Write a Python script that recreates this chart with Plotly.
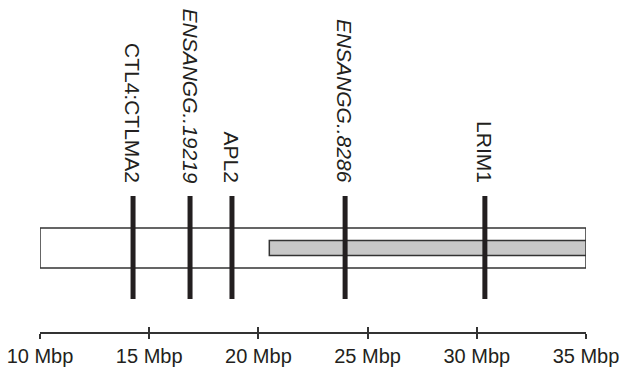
import plotly.graph_objects as go

# Data
region_start = 10.0
region_end = 35.0
highlight_start = 20.5
highlight_end = 35.0
gene_names = ["CTL4:CTLMA2", "ENSANGG..19219", "APL2", "ENSANGG..8286", "LRIM1"]
gene_pos = [14.26, 16.87, 18.79, 23.97, 30.37]
gene_italic = [False, True, False, True, False]
tick_vals = [10, 15, 20, 25, 30, 35]
tick_text = ["10 Mbp", "15 Mbp", "20 Mbp", "25 Mbp", "30 Mbp", "35 Mbp"]

DARK = "#231f20"
FONT = "Liberation Sans, Arial, sans-serif"
fig = go.Figure()

shapes = []
shapes.append(dict(type="rect", xref="x", yref="y", x0=region_start, x1=region_end,
                   y0=64, y1=104, line=dict(color="#333333", width=1.5),
                   fillcolor="white", layer="below"))
shapes.append(dict(type="rect", xref="x", yref="y", x0=highlight_start, x1=highlight_end,
                   y0=76.5, y1=91.5, line=dict(color="#333333", width=1.5),
                   fillcolor="#c8c8c8", layer="below"))

for name, p in zip(gene_names, gene_pos):
    fig.add_trace(go.Scatter(x=[p, p], y=[33, 136], mode="lines",
                             line=dict(color=DARK, width=5), hoverinfo="skip",
                             showlegend=False))

annotations = []
for name, p, it in zip(gene_names, gene_pos, gene_italic):
    txt = f"<i>{name}</i>" if it else name
    annotations.append(dict(x=p, y=147, xref="x", yref="y", text=txt, textangle=90,
                            showarrow=False, xanchor="center", yanchor="bottom",
                            font=dict(family=FONT, size=21, color=DARK)))

fig.add_trace(go.Scatter(x=[region_start, region_end], y=[0, 0], xaxis="x2",
                         mode="markers", marker=dict(opacity=0), hoverinfo="skip",
                         showlegend=False))

fig.update_layout(
    width=620, height=372,
    margin=dict(l=40, r=34, t=0, b=40, autoexpand=False),
    paper_bgcolor="white", plot_bgcolor="white",
    shapes=shapes, annotations=annotations,
    showlegend=False, hovermode=False,
    xaxis=dict(range=[region_start, region_end], tickvals=tick_vals, ticktext=tick_text,
               showline=True, linecolor="#333333", linewidth=1.5,
               ticks="outside", ticklen=5, tickwidth=1.5, tickcolor="#333333",
               showgrid=False, zeroline=False, automargin=False,
               tickfont=dict(family=FONT, size=20, color=DARK)),
    xaxis2=dict(range=[region_start, region_end], overlaying="x", side="bottom",
                tickvals=tick_vals, showticklabels=False, automargin=False,
                ticks="inside", ticklen=5, tickwidth=1.5, tickcolor="#333333",
                showgrid=False, zeroline=False, showline=False),
    yaxis=dict(range=[0, 332], visible=False, showgrid=False, zeroline=False,
               automargin=False),
)

fig.write_html("out.html", config={"displayModeBar": False},
               post_script="document.body.style.margin='0';document.body.style.overflow='hidden';")
